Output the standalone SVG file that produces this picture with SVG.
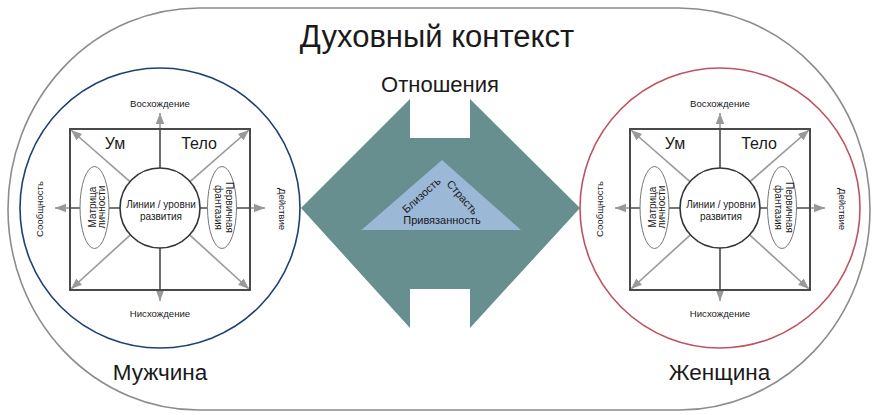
<svg xmlns="http://www.w3.org/2000/svg" width="876" height="415" viewBox="0 0 876 415">
<style>
text{font-family:"Liberation Sans",Arial,sans-serif;fill:#1a1a1a}
.sq{fill:none;stroke:#4a4a4a;stroke-width:2}
.ic{fill:#fff;stroke:#333;stroke-width:1.6}
.el{fill:#fff;stroke:#777;stroke-width:1}
.dk{stroke:#4a4a4a;stroke-width:1.6;fill:none}
.ga{stroke:#999;stroke-width:1.6;fill:none;marker-end:url(#ah)}
.sm{font-size:9.6px;text-anchor:middle}
.md{font-size:10px;text-anchor:middle}
.lg{font-size:16px;text-anchor:middle}
.xl{font-size:22.5px;text-anchor:middle}
</style>
<defs>
<marker id="ah" markerUnits="userSpaceOnUse" markerWidth="12" markerHeight="10" viewBox="0 0 12 10" refX="11" refY="5" orient="auto">
<path d="M0,0.8 L11,5 L0,9.2 Z" fill="#999"/>
</marker>
</defs>
<rect width="876" height="415" fill="#fff"/>
<g id="context">
<rect x="8" y="8" width="862" height="402" rx="191" ry="201" fill="none" stroke="#8c8c8c" stroke-width="1.6"/>
<text x="437" y="47" style="font-size:31px;text-anchor:middle">Духовный контекст</text>
</g>
<g id="relations">
<path d="M301,208 L410,99 L410,138 L470,138 L470,99 L580,208 L470,328 L470,289 L410,289 L410,328 Z" fill="#678f8f"/>
<polygon points="442,160 361.5,230 521,230" fill="#9bb8d6"/>
<text x="440" y="92" class="xl" style="font-size:22px">Отношения</text>
<text transform="translate(424,198) rotate(-42)" style="font-size:11px;text-anchor:middle">Близость</text>
<text transform="translate(459.6,200) rotate(49)" style="font-size:11px;text-anchor:middle">Страсть</text>
<text x="442" y="224" style="font-size:11px;text-anchor:middle">Привязанность</text>
</g>
<g id="man">
<circle cx="160" cy="208" r="140" fill="none" stroke="#1f3f73" stroke-width="1.6"/>
<text x="160" y="380" class="xl">Мужчина</text>
</g>
<g id="woman">
<circle cx="720" cy="208" r="140" fill="none" stroke="#c1515f" stroke-width="1.6"/>
<text x="719.5" y="379.5" class="xl">Женщина</text>
</g>
<g id="connectors">
<g id="connectors-man">
<path class="dk" d="M160,168 V129 M160,248 V290 M70,208 H80 M109,208 H120 M200,208 H207.5 M236.5,208 H250"/>
<path class="ga" d="M160,129 V113"/>
<path class="ga" d="M160,290 V301"/>
<path class="ga" d="M70,208 H55"/>
<path class="ga" d="M250,208 H265"/>
<path class="ga" d="M130,181.6 L71,130"/>
<path class="ga" d="M190,181.6 L249,130"/>
<path class="ga" d="M130.4,234.9 L71,289"/>
<path class="ga" d="M189.6,234.9 L249,289"/>
</g>
<g id="connectors-woman" transform="translate(560,0)">
<path class="dk" d="M160,168 V129 M160,248 V290 M70,208 H80 M109,208 H120 M200,208 H207.5 M236.5,208 H250"/>
<path class="ga" d="M160,129 V113"/>
<path class="ga" d="M160,290 V301"/>
<path class="ga" d="M70,208 H55"/>
<path class="ga" d="M250,208 H265"/>
<path class="ga" d="M130,181.6 L71,130"/>
<path class="ga" d="M190,181.6 L249,130"/>
<path class="ga" d="M130.4,234.9 L71,289"/>
<path class="ga" d="M189.6,234.9 L249,289"/>
</g>
</g>
<g id="man-quadrant">
<rect class="sq" x="70" y="129" width="180" height="161"/>
<text x="115" y="148.5" class="lg">Ум</text>
<text x="199" y="148.5" class="lg">Тело</text>
<text x="160" y="107" class="sm">Восхождение</text>
<text x="160" y="316.5" class="sm">Нисхождение</text>
<text transform="translate(43,209) rotate(-90)" class="sm">Сообщность</text>
<text transform="translate(278.5,209) rotate(90)" class="sm">Действие</text>
</g>
<g id="man-lines">
<circle class="ic" cx="160" cy="208" r="40"/>
<text x="161" y="208" class="md">Линии / уровни</text>
<text x="161" y="220" class="md">развития</text>
</g>
<g id="man-matrix">
<ellipse class="el" cx="94.5" cy="207.5" rx="14.5" ry="41"/>
<text transform="translate(95.5,207) rotate(-90)" class="md">Матрица</text>
<text transform="translate(105,207) rotate(-90)" class="md">личности</text>
</g>
<g id="man-fantasy">
<ellipse class="el" cx="222" cy="207.5" rx="14.5" ry="41"/>
<text transform="translate(225.5,207.5) rotate(90)" class="md">Первичная</text>
<text transform="translate(214.5,207.5) rotate(90)" class="md">фантазия</text>
</g>
<g id="woman-quadrant" transform="translate(560,0)">
<rect class="sq" x="70" y="129" width="180" height="161"/>
<text x="115" y="148.5" class="lg">Ум</text>
<text x="199" y="148.5" class="lg">Тело</text>
<text x="160" y="107" class="sm">Восхождение</text>
<text x="160" y="316.5" class="sm">Нисхождение</text>
<text transform="translate(43,209) rotate(-90)" class="sm">Сообщность</text>
<text transform="translate(278.5,209) rotate(90)" class="sm">Действие</text>
</g>
<g id="woman-lines" transform="translate(560,0)">
<circle class="ic" cx="160" cy="208" r="40"/>
<text x="161" y="208" class="md">Линии / уровни</text>
<text x="161" y="220" class="md">развития</text>
</g>
<g id="woman-matrix" transform="translate(560,0)">
<ellipse class="el" cx="94.5" cy="207.5" rx="14.5" ry="41"/>
<text transform="translate(95.5,207) rotate(-90)" class="md">Матрица</text>
<text transform="translate(105,207) rotate(-90)" class="md">личности</text>
</g>
<g id="woman-fantasy" transform="translate(560,0)">
<ellipse class="el" cx="222" cy="207.5" rx="14.5" ry="41"/>
<text transform="translate(225.5,207.5) rotate(90)" class="md">Первичная</text>
<text transform="translate(214.5,207.5) rotate(90)" class="md">фантазия</text>
</g>
</svg>
